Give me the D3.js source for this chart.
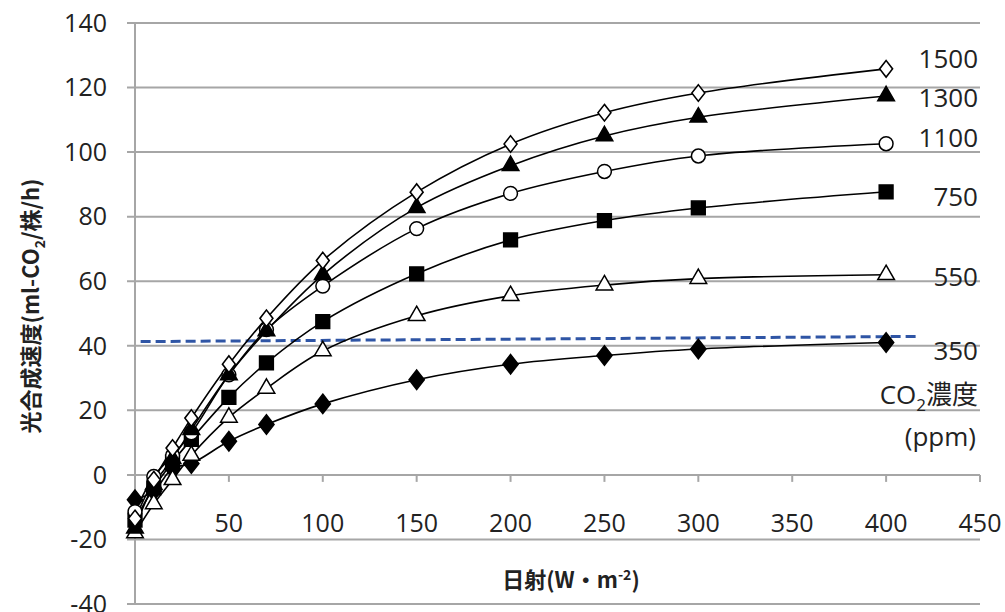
<!DOCTYPE html>
<html>
<head>
<meta charset="utf-8">
<script src="https://cdn.jsdelivr.net/npm/d3@7"></script>
<style>
  body { margin: 0; background: #fff; }
  text { font-family: "Open Sans", "Noto Sans CJK JP", sans-serif; fill: #222; }
</style>
</head>
<body>
<svg id="chart"></svg>
<script>
// 日射 (x)
var radiation = [0, 10, 20, 30, 50, 70, 100, 150, 200, 250, 300, 400];
// CO2濃度ごとの光合成速度
var co2_350  = [-7.7, -5, 2, 3.5, 10.4, 15.6, 22, 29.5, 34.3, 37, 39, 41];
var co2_550  = [-18, -9, -1.5, 6, 17.8, 26.8, 38.4, 49.3, 55.5, 58.8, 60.8, 62];
var co2_750  = [-14, -4, 4, 11, 24, 34.7, 47.5, 62.3, 72.8, 78.8, 82.7, 87.7];
var co2_1100 = [-11.4, -0.5, 6, 13, 31, 45, 58.5, 76.3, 87.2, 94, 98.8, 102.6];
var co2_1300 = [-16.5, -3, 5, 14, 31, 44.6, 62, 82.8, 95.8, 105, 110.8, 117.4];
var co2_1500 = [-13.5, -1.5, 8.3, 17.6, 34.3, 48.5, 66.4, 87.6, 102.5, 112.2, 118.3, 125.8];
var seriesNames = ["350", "550", "750", "1100", "1300", "1500"];
var xTicks = [50, 100, 150, 200, 250, 300, 350, 400, 450];
var yTicks = [-40, -20, 0, 20, 40, 60, 80, 100, 120, 140];
// 青い破線 (x, y)
var dashedLine = [[3, 41.3], [418, 42.9]];

var width = 1005, height = 612;
var svg = d3.select("#chart").attr("width", width).attr("height", height);

var x = d3.scaleLinear().domain([0, 450]).range([135, 980]);
var y = d3.scaleLinear().domain([-40, 140]).range([604, 23]);

// グリッド線
svg.append("g").selectAll("line").data(yTicks).enter().append("line")
    .attr("x1", 127).attr("x2", x(450))
    .attr("y1", d => y(d)).attr("y2", d => y(d))
    .attr("stroke", "#a6a6a6").attr("stroke-width", 2);

// y軸
svg.append("line")
    .attr("x1", x(0)).attr("x2", x(0))
    .attr("y1", y(140)).attr("y2", y(-40))
    .attr("stroke", "#a6a6a6").attr("stroke-width", 2);

svg.append("g").selectAll("text").data(yTicks).enter().append("text")
    .attr("x", 107).attr("y", d => y(d))
    .attr("dy", "0.35em")
    .attr("text-anchor", "end")
    .style("font-size", "25px")
    .text(d => d);

// x軸の目盛り (0の線の上)
svg.append("g").selectAll("line").data(xTicks).enter().append("line")
    .attr("x1", d => x(d)).attr("x2", d => x(d))
    .attr("y1", y(0)).attr("y2", y(0) + 7)
    .attr("stroke", "#a6a6a6").attr("stroke-width", 2);

svg.append("g").selectAll("text").data(xTicks).enter().append("text")
    .attr("x", d => x(d)).attr("y", 523)
    .attr("dy", "0.35em")
    .attr("text-anchor", "middle")
    .style("font-size", "25px")
    .text(d => d);

// 青い破線
svg.append("line")
    .attr("x1", x(dashedLine[0][0])).attr("y1", y(dashedLine[0][1]))
    .attr("x2", x(dashedLine[1][0])).attr("y2", y(dashedLine[1][1]))
    .attr("stroke", "#2f55a5").attr("stroke-width", 3)
    .attr("stroke-dasharray", "10,5");

var allSeries = [co2_350, co2_550, co2_750, co2_1100, co2_1300, co2_1500];
var line = d3.line()
    .x((d, i) => x(radiation[i]))
    .y(d => y(d))
    .curve(d3.curveCatmullRom.alpha(0.5));

svg.append("g").selectAll("path").data(allSeries).enter().append("path")
    .attr("d", d => line(d))
    .attr("fill", "none")
    .attr("stroke", "#000")
    .attr("stroke-width", 1.6);

// マーカー
var markers = [
    {type: d3.symbolDiamond, size: 150, fill: "#000"},
    {type: d3.symbolTriangle, size: 120, fill: "#fff"},
    {type: d3.symbolSquare, size: 190, fill: "#000"},
    {type: d3.symbolCircle, size: 150, fill: "#fff"},
    {type: d3.symbolTriangle, size: 120, fill: "#000"},
    {type: d3.symbolDiamond, size: 110, fill: "#fff"}
];

allSeries.forEach(function(values, k){
    var m = markers[k];
    var sym = d3.symbol().type(m.type).size(m.size);
    svg.append("g").selectAll("path").data(values).enter().append("path")
        .attr("d", sym)
        .attr("transform", (d, i) => {
            var sx = m.type === d3.symbolDiamond ? "scale(1.15,0.85)" : "";
            return "translate(" + x(radiation[i]) + "," + y(d) + ")" + sx;
        })
        .attr("fill", m.fill)
        .attr("stroke", "#000")
        .attr("stroke-width", 1.5);
});

// 右側のラベル
var labelY = [38.4, 61.4, 86, 104.3, 116.8, 129];
svg.append("g").selectAll("text").data(seriesNames).enter().append("text")
    .attr("x", 978).attr("y", (d, i) => y(labelY[i]))
    .attr("dy", "0.35em")
    .attr("text-anchor", "end")
    .style("font-size", "26px")
    .text(d => d);

var co2Label = svg.append("text")
    .attr("x", 978).attr("y", y(24.9))
    .attr("dy", "0.35em")
    .attr("text-anchor", "end")
    .style("font-size", "26px");
co2Label.append("tspan").text("CO");
co2Label.append("tspan").attr("dy", 7).style("font-size", "17px").text("2");
co2Label.append("tspan").attr("dy", -7).style("font-family", "Noto Sans CJK JP").text("濃度");

svg.append("text")
    .attr("x", 976).attr("y", y(11.8))
    .attr("dy", "0.35em")
    .attr("text-anchor", "end")
    .style("font-size", "26px")
    .text("(ppm)");

// 軸タイトル
var yTitle = svg.append("text")
    .attr("transform", "translate(31," + 306 + ") rotate(-90)")
    .attr("text-anchor", "middle")
    .attr("dy", "0.35em")
    .style("font-size", "22px")
    .style("font-weight", "bold")
    .style("font-family", "'Noto Sans CJK JP', sans-serif");
yTitle.append("tspan").text("光合成速度(ml-CO");
yTitle.append("tspan").attr("dy", 6).style("font-size", "14px").text("2");
yTitle.append("tspan").attr("dy", -6).text("/株/h)");

var xTitle = svg.append("text")
    .attr("x", 571).attr("y", 580)
    .attr("text-anchor", "middle")
    .attr("dy", "0.35em")
    .style("font-size", "22px")
    .style("font-weight", "bold")
    .style("font-family", "'Noto Sans CJK JP', sans-serif");
xTitle.append("tspan").text("日射(W・m");
xTitle.append("tspan").attr("dy", -8).style("font-size", "14px").text("-2");
xTitle.append("tspan").attr("dy", 8).text(")");
</script>
</body>
</html>
